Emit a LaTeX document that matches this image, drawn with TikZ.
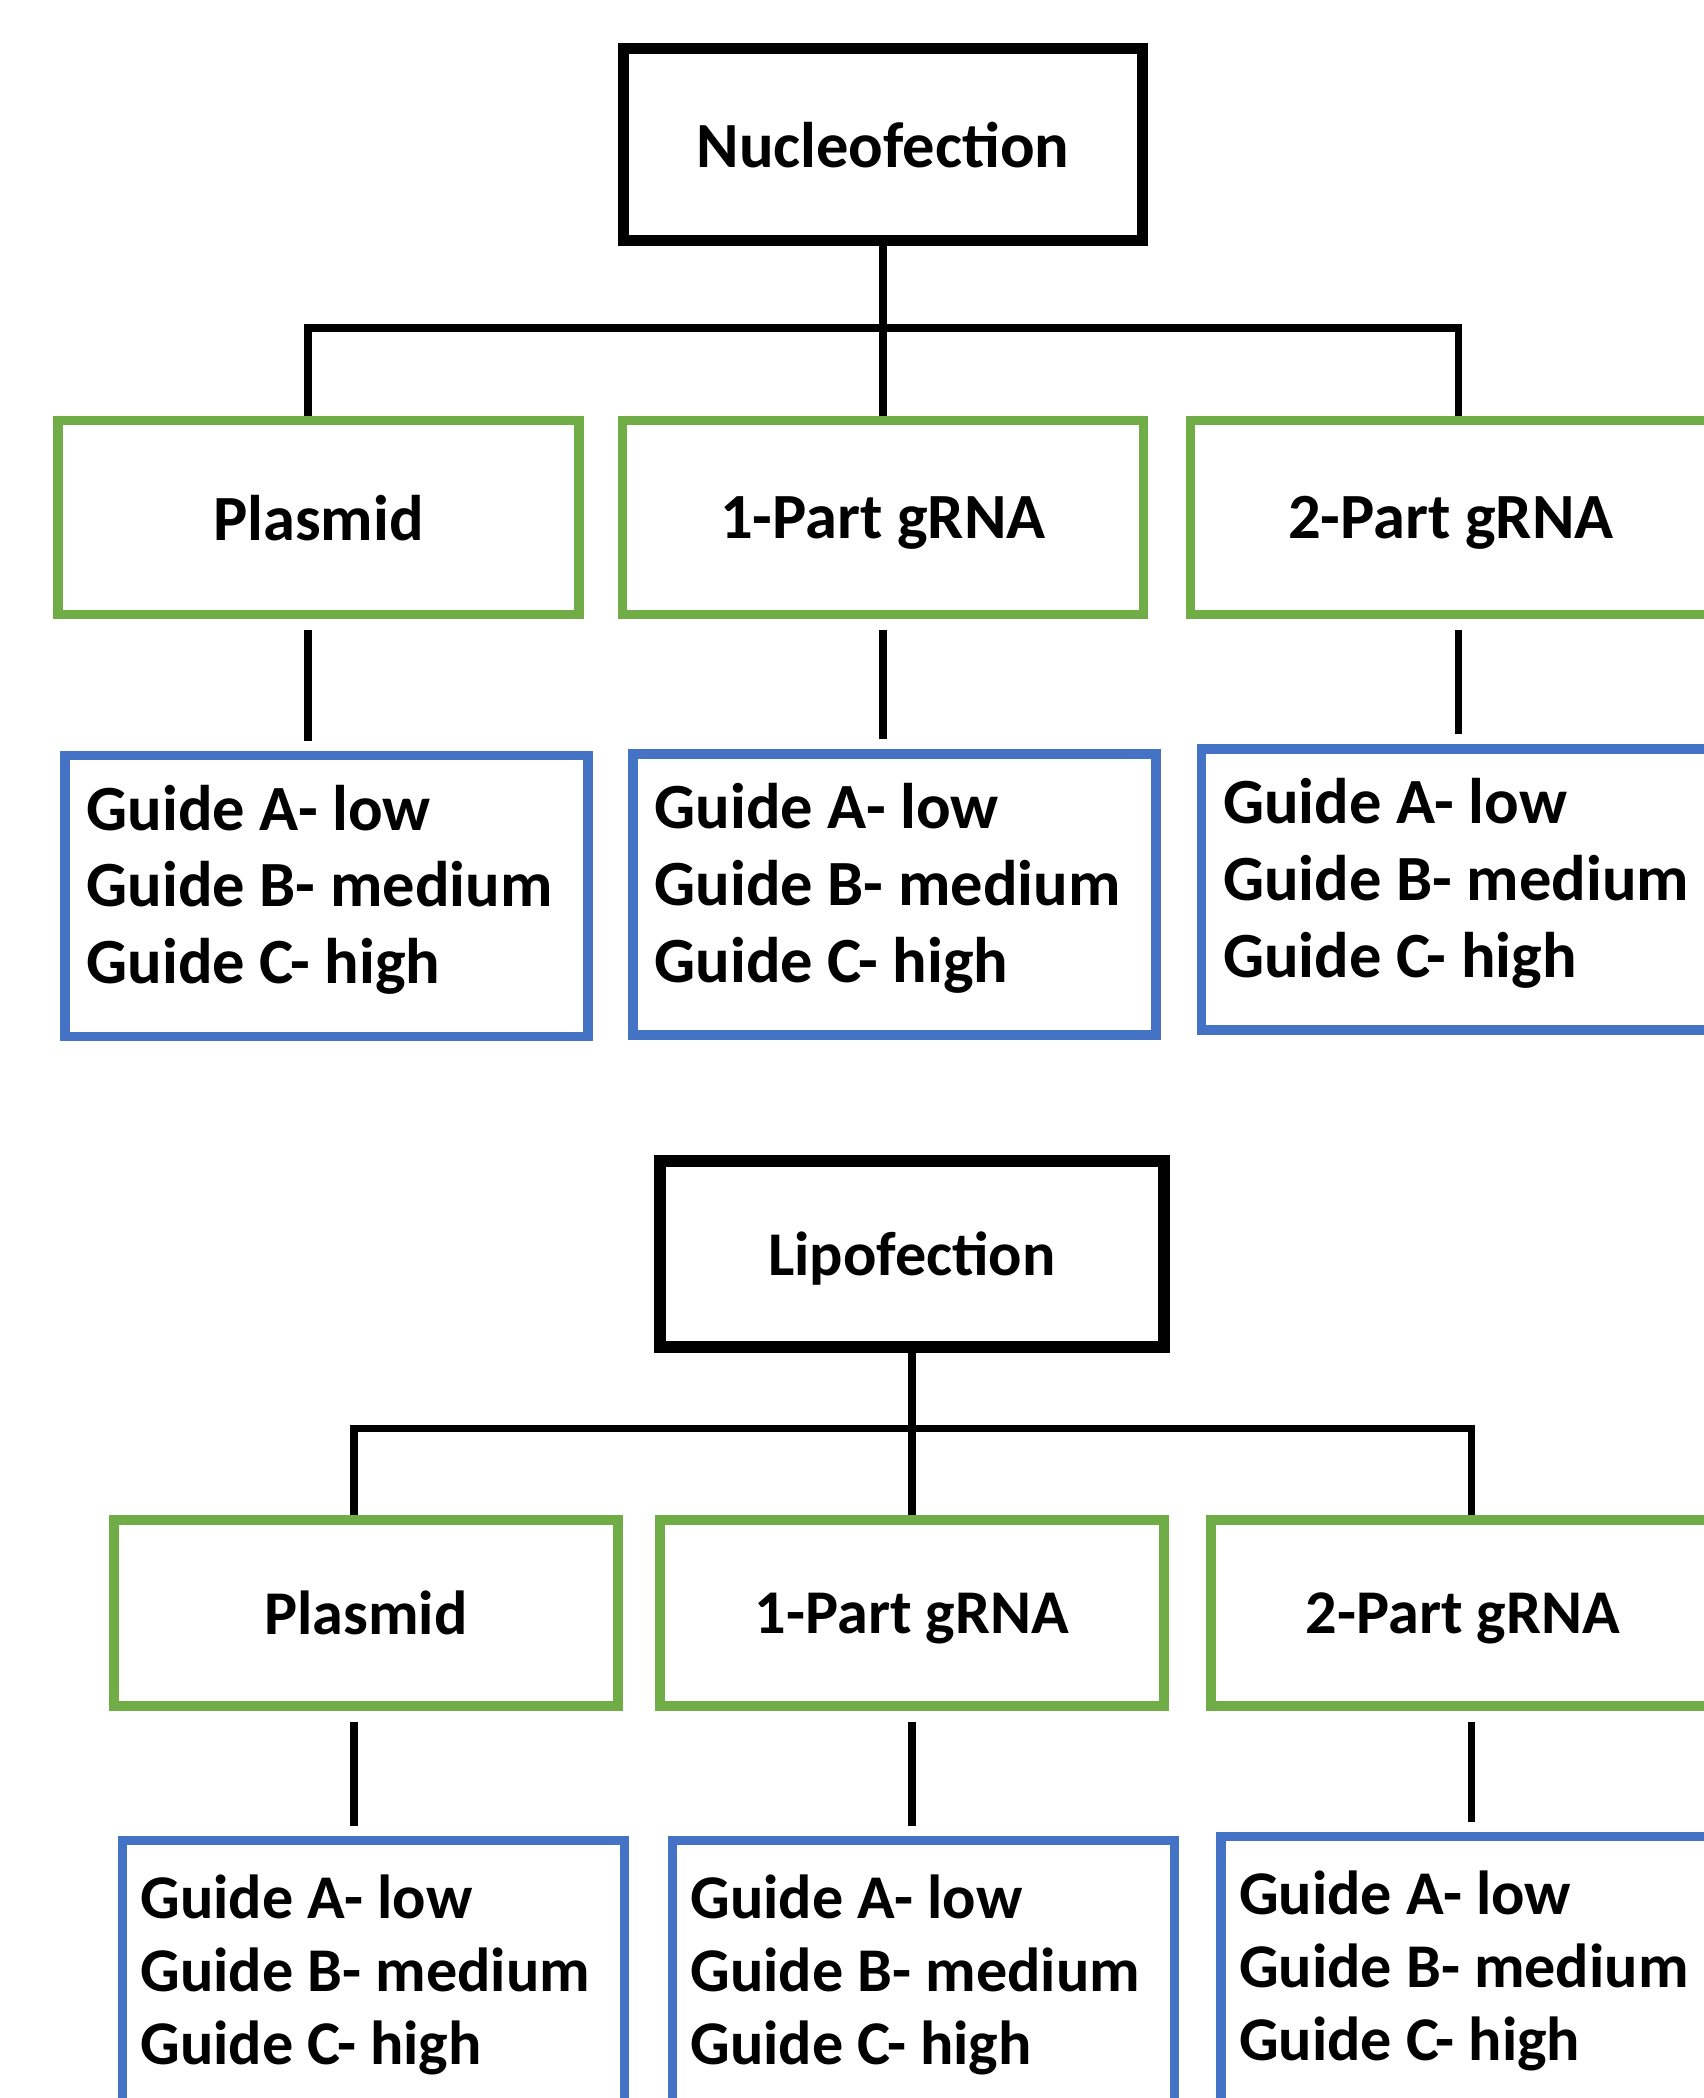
\documentclass[tikz,border=0pt]{standalone}
\usepackage{fontspec}
\setmainfont{Carlito}
\definecolor{boxgreen}{RGB}{112,173,71}
\definecolor{boxblue}{RGB}{68,114,196}
\tikzset{
  method/.style={draw=black, line width=3.2pt, minimum width=5.19cm, minimum height=1.92cm, text depth=0pt},
  carrier/.style={draw=boxgreen, line width=2.7pt, minimum width=5.21cm, minimum height=1.94cm, text depth=0pt},
  guides/.style={draw=boxblue, line width=2.7pt, minimum width=5.23cm, minimum height=2.81cm, align=flush left, text width=4.8cm, text height=0.5cm, text depth=1.82cm},
  link/.style={line width=2pt},
  fontA/.style={font=\fontsize{18.35}{21.9}\selectfont\bfseries},
  fontB/.style={font=\fontsize{17.7}{20.9}\selectfont\bfseries},
}

\begin{document}
\begin{tikzpicture}
\useasboundingbox (0,0) rectangle (17.04,-20.98);

% nucleofection tree
\node[method, fontA] (nuc) at (8.83,-1.445) {Nucleofection};
\node[carrier, fontA] (nucP) at (3.185,-5.175) {Plasmid};
\node[carrier, fontA] (nuc1) at (8.83,-5.175) {1-Part gRNA};
\node[carrier, fontA] (nuc2) at (14.51,-5.175) {2-Part gRNA};
\node[guides, fontA] (nucPg) at (3.265,-8.96) {Guide A- low\\Guide B- medium\\Guide C- high};
\node[guides, fontA] (nuc1g) at (8.945,-8.945) {Guide A- low\\Guide B- medium\\Guide C- high};
\node[guides, fontA] (nuc2g) at (14.63,-8.895) {Guide A- low\\Guide B- medium\\Guide C- high};
\coordinate (nb-l) at (3.08,-3.28);
\coordinate (nb-r) at (14.58,-3.28);

\draw[link] (nuc.south) -- (nuc1.north);
\draw[link] (nucP.north -| nb-l) -- (nb-l) -- (nb-r) -- (nuc2.north -| nb-r);
\draw[link, shorten <=0.11cm, shorten >=0.1cm] (nucP.south -| nb-l) -- (nucPg.north -| nb-l);
\draw[link, shorten <=0.11cm, shorten >=0.1cm] (nuc1.south) -- (nuc1.south |- nuc1g.north);
\draw[link, shorten <=0.11cm, shorten >=0.1cm] (nuc2.south -| nb-r) -- (nuc2g.north -| nb-r);

% lipofection tree
\node[method, fontB, minimum width=5.04cm, minimum height=1.86cm] (lip) at (9.12,-12.54) {Lipofection};
\node[carrier, fontB, minimum width=5.04cm, minimum height=1.86cm] (lipP) at (3.66,-16.13) {Plasmid};
\node[carrier, fontB, minimum width=5.04cm, minimum height=1.86cm] (lip1) at (9.12,-16.13) {1-Part gRNA};
\node[carrier, fontB, minimum width=5.04cm, minimum height=1.86cm] (lip2) at (14.63,-16.13) {2-Part gRNA};
\node[guides, fontB, minimum width=5.02cm, text width=4.66cm, text depth=1.76cm] (lipPg) at (3.735,-19.81) {Guide A- low\\Guide B- medium\\Guide C- high};
\node[guides, fontB, minimum width=5.02cm, text width=4.66cm, text depth=1.76cm] (lip1g) at (9.235,-19.81) {Guide A- low\\Guide B- medium\\Guide C- high};
\node[guides, fontB, minimum width=5.02cm, text width=4.66cm, text depth=1.76cm] (lip2g) at (14.72,-19.77) {Guide A- low\\Guide B- medium\\Guide C- high};
\coordinate (lb-l) at (3.54,-14.28);
\coordinate (lb-r) at (14.71,-14.28);

\draw[link] (lip.south) -- (lip1.north);
\draw[link] (lipP.north -| lb-l) -- (lb-l) -- (lb-r) -- (lip2.north -| lb-r);
\draw[link, shorten <=0.11cm, shorten >=0.1cm] (lipP.south -| lb-l) -- (lipPg.north -| lb-l);
\draw[link, shorten <=0.11cm, shorten >=0.1cm] (lip1.south) -- (lip1.south |- lip1g.north);
\draw[link, shorten <=0.11cm, shorten >=0.1cm] (lip2.south -| lb-r) -- (lip2g.north -| lb-r);
\end{tikzpicture}
\end{document}
